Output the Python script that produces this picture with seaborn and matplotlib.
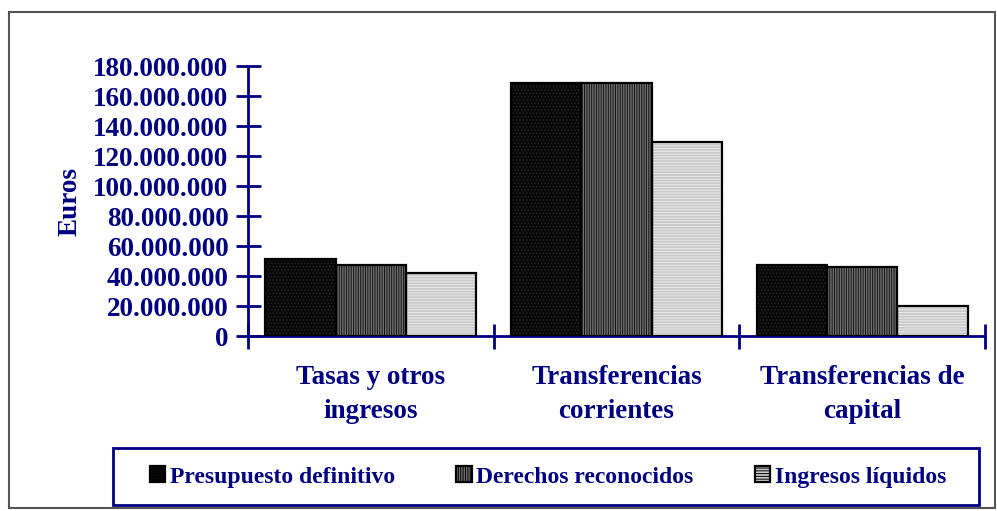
import matplotlib
matplotlib.use('Agg')
import matplotlib.pyplot as plt
import matplotlib.patches as mpatches
from matplotlib.ticker import FuncFormatter, MultipleLocator
import pandas as pd
import seaborn as sns

# Data
categories = ['Tasas y otros\ningresos', 'Transferencias\ncorrientes', 'Transferencias de\ncapital']
series = ['Presupuesto definitivo', 'Derechos reconocidos', 'Ingresos líquidos']
presupuesto = [51300000, 168900000, 47100000]
derechos = [47300000, 169000000, 45800000]
liquidos = [41800000, 129500000, 19800000]

df = pd.DataFrame({
    'Categoria': categories * 3,
    'Serie': [series[0]] * 3 + [series[1]] * 3 + [series[2]] * 3,
    'Euros': presupuesto + derechos + liquidos,
})

navy = '#000080'
fills = ['#080808', '#707070', '#c8c8c8']
hatch_cols = ['#262626', '#111111', '#ececec']
hatches = ['.....', '|||||||', '------']

sns.set_style('white')
plt.rcParams['font.family'] = ['Liberation Serif', 'DejaVu Serif']
plt.rcParams['font.weight'] = 'bold'
plt.rcParams['hatch.linewidth'] = 0.7

fig = plt.figure(figsize=(9.97, 5.11), dpi=100)
ax = fig.add_axes([248 / 997, (511 - 336) / 511, (985 - 248) / 997, (336 - 66) / 511])

sns.barplot(data=df, x='Categoria', y='Euros', hue='Serie', hue_order=series,
            palette=fills, width=0.86, ax=ax, legend=False, saturation=1)

for i, cont in enumerate(ax.containers):
    for p in cont:
        p.set_hatch(hatches[i])
        p.set_edgecolor(hatch_cols[i])
        p.set_linewidth(0)
        ax.add_patch(mpatches.Rectangle(p.get_xy(), p.get_width(), p.get_height(),
                                        fill=False, edgecolor='black', linewidth=1.6, zorder=3))

ax.set_ylim(0, 180000000)
ax.set_xlim(-0.5, 2.5)
ax.yaxis.set_major_locator(MultipleLocator(20000000))
ax.yaxis.set_major_formatter(FuncFormatter(lambda v, _: f'{int(v):,}'.replace(',', '.')))

for s in ['top', 'right']:
    ax.spines[s].set_visible(False)
for s in ['left', 'bottom']:
    ax.spines[s].set_color(navy)
    ax.spines[s].set_linewidth(2)

ax.tick_params(axis='y', left=True, direction='inout', length=18, width=2, color=navy,
               labelcolor=navy, labelsize=19.5, pad=5)
ax.set_xticks(range(3))
ax.set_xticklabels(categories, linespacing=1.45)
ax.set_xticks([-0.5, 0.5, 1.5, 2.5], minor=True)
ax.tick_params(axis='x', which='minor', bottom=True, direction='inout', length=18, width=2,
               color=navy)
ax.tick_params(axis='x', which='major', bottom=False, length=0, labelcolor=navy,
               labelsize=19.5, pad=21)

ax.set_xlabel('')
ax.set_ylabel('Euros', color=navy, fontsize=19.5, fontweight='bold')
ax.yaxis.set_label_coords(-0.224, 0.5)

# legend: entries without frame, plus a separate navy box
handles = [mpatches.Patch(facecolor=fills[i], hatch=hatches[i], edgecolor='black',
                          linewidth=1.6, label=series[i]) for i in range(3)]
leg = fig.legend(handles=handles, ncol=3, loc='center',
                 bbox_to_anchor=(548 / 997, 1 - 477 / 511),
                 fontsize=17, handlelength=0.65, handleheight=0.65,
                 handletextpad=0.2, columnspacing=2.6, frameon=False, borderpad=0)
for t in leg.get_texts():
    t.set_color(navy)
    t.set_fontweight('bold')
fig.patches.append(mpatches.Rectangle((113 / 997, 1 - 505 / 511), 866 / 997, 57 / 511,
                                      transform=fig.transFigure, fill=False,
                                      edgecolor=navy, linewidth=2))

fig.patches.append(mpatches.Rectangle((9 / 997, 1 - 508 / 511), 986 / 997, 496 / 511,
                                      transform=fig.transFigure, fill=False,
                                      edgecolor='#555555', linewidth=1.5))

fig.savefig('out.png', dpi=100)
